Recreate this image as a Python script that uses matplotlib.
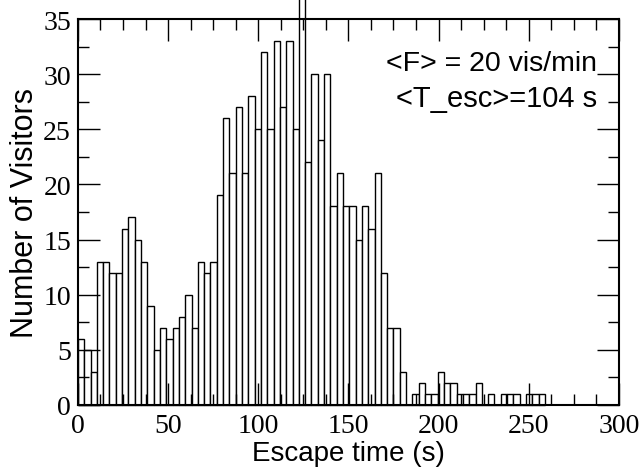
import matplotlib.pyplot as plt
import numpy as np

# histogram of escape times, 3.5 s bins starting at 0
bin_width = 3.5
counts = [
    6, 5, 3, 13, 13, 12, 12, 16, 17, 15,
    13, 9, 5, 7, 6, 7, 8, 10, 7, 13,
    12, 13, 19, 26, 21, 27, 21, 28, 25, 32,
    25, 33, 27, 33, 25, 38, 22, 30, 24, 30,
    18, 21, 18, 18, 15, 18, 16, 21, 12, 7,
    7, 3, 0, 1, 2, 1, 1, 3, 2, 2,
    1, 1, 1, 2, 0, 1, 0, 1, 1, 1,
    0, 1, 1, 1,
]
x_ticks = [0, 50, 100, 150, 200, 250, 300]
y_ticks = [0, 5, 10, 15, 20, 25, 30, 35]
notes = ["<F> = 20 vis/min", "<T_esc>=104 s"]

edges = np.arange(len(counts)) * bin_width

fig = plt.figure(figsize=(6.44, 4.77), dpi=100)
ax = fig.add_axes([0.121, 0.149, 0.840, 0.809])

ax.bar(edges, counts, width=bin_width, align="edge", facecolor="white",
       edgecolor="black", linewidth=1.0, clip_on=False, zorder=1)

ax.set_xlim(0, 300)
ax.set_ylim(0, 35)
ax.set_xticks(x_ticks)
ax.set_yticks(y_ticks)
ax.set_xticks(np.arange(0, 300.1, 12.5), minor=True)
ax.set_yticks(np.arange(0, 35.1, 2.5), minor=True)
ax.tick_params(which="both", direction="in", top=True, right=True, width=1.0)
ax.tick_params(which="major", length=16, labelsize=20)
ax.tick_params(axis="x", which="major", pad=6)
ax.tick_params(axis="y", which="major", pad=5)
ax.tick_params(which="minor", length=8)
for lab in ax.get_xticklabels() + ax.get_yticklabels():
    lab.set_family("Liberation Serif")
for sp in ax.spines.values():
    sp.set_linewidth(1.5)
    sp.set_zorder(3)

ax.set_xlabel("Escape time (s)", family="Liberation Sans", fontsize=20, labelpad=1)
ax.set_ylabel("Number of Visitors", family="Liberation Sans", fontsize=22, labelpad=2)

ax.text(288, 31.0, notes[0], ha="right", va="center", family="Liberation Sans", fontsize=20.5)
ax.text(288, 27.8, notes[1], ha="right", va="center", family="Liberation Sans", fontsize=21)

fig.savefig("out.png", dpi=100)
